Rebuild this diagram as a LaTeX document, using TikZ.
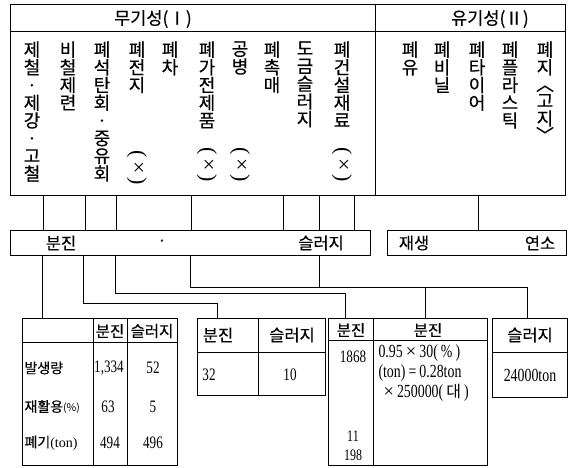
\documentclass[tikz,border=0pt]{standalone}
\usepackage{fontspec}
\usepackage{graphicx}
\setmainfont{Liberation Serif}
\newfontfamily\kr[FakeBold=0.3]{Noto Sans CJK KR}
\newfontfamily\krl{Noto Sans CJK KR}
\newfontfamily\numf[FakeStretch=0.75]{Liberation Serif}
\newcommand\vlb{\rotatebox[origin=c]{-90}{〈}}
\newcommand\vrb{\rotatebox[origin=c]{-90}{〉}}
\begin{document}
\begin{tikzpicture}[x=1pt,y=-1pt,line width=1pt,
 box/.style={draw,inner sep=0pt,outer sep=0pt,anchor=north west},
 vcol/.style={anchor=north,align=center,inner sep=0pt,font=\kr\fontsize{18}{17.7}\selectfont},
 hd/.style={inner sep=0pt,font=\kr\fontsize{17.5}{20}\selectfont},
 lbl/.style={inner sep=0pt,font=\kr\fontsize{16.5}{18}\selectfont},
 slbl/.style={inner sep=0pt,font=\kr\fontsize{14}{16}\selectfont},
 num/.style={inner sep=0pt,font=\numf\fontsize{17.5}{20}\selectfont},
 xm/.style={inner sep=0pt,rotate=-90,font=\fontsize{22}{24}\selectfont},
]
\useasboundingbox (0,0) rectangle (570,468);
% top box
\node[box,minimum width=555pt,minimum height=190pt] (top) at (10,5) {};
\draw (top.west |- 0,32) -- (top.east |- 0,32);
\draw (top.north -| 375,0) -- (top.south -| 375,0);
\node[hd] (h1) at (153,19) {무기성(Ⅰ)};
\node[hd] (h2) at (490,19) {유기성(Ⅱ)};
% columns
\node[vcol] (c1) at (32,41) {제\\철\\·\\제\\강\\·\\고\\철};
\node[vcol] (c2) at (68,41) {비\\철\\제\\련};
\node[vcol] (c3) at (102,41) {폐\\석\\탄\\회\\·\\중\\유\\회};
\node[vcol] (c4) at (137,41) {폐\\전\\지};
\node[vcol] (c5) at (170,41) {폐\\차};
\node[vcol] (c6) at (207,41) {폐\\가\\전\\제\\품};
\node[vcol] (c7) at (240,41) {공\\병};
\node[vcol] (c8) at (272,41) {폐\\촉\\매};
\node[vcol] (c9) at (305,41) {도\\금\\슬\\러\\지};
\node[vcol] (c10) at (342,41) {폐\\건\\설\\재\\료};
\node[vcol] (c11) at (410,41) {폐\\유};
\node[vcol] (c12) at (442,41) {폐\\비\\닐};
\node[vcol] (c13) at (477,41) {폐\\타\\이\\어};
\node[vcol] (c14) at (510,41) {폐\\플\\라\\스\\틱};
\node[vcol] (c15) at (545,41) {폐\\지\\[-1pt]\vlb\\[-1pt]고\\지\\[-1pt]\vrb};
\node[xm] (x1) at (137,168) {(\,×\,)};
\node[xm] (x2) at (207,165) {(\,×\,)};
\node[xm] (x3) at (240,165) {(\,×\,)};
\node[xm] (x4) at (342,165) {(\,×\,)};
% bars
\node[box,minimum width=360pt,minimum height=25pt] (bar1) at (10,230) {};
\node[box,minimum width=179pt,minimum height=25pt] (bar2) at (387,230) {};
\node[lbl] (b1) at (61,243) {분진};
\node[lbl] (b2) at (162,243) {·};
\node[lbl] (b3) at (321,243) {슬러지};
\node[lbl] (b4) at (414,243) {재생};
\node[lbl] (b5) at (540,243) {연소};
% connectors top -> bars
\foreach \xx in {43,85,116,191,283,319,354}
  \draw (top.south -| \xx,0) -- (bar1.north -| \xx,0);
\draw (top.south -| 478,0) -- (bar2.north -| 478,0);
% tables
\node[box,minimum width=155pt,minimum height=147pt] (t1) at (22,318) {};
\draw (t1.west |- 0,342) -- (t1.east |- 0,342);
\draw (t1.north -| 93,0) -- (t1.south -| 93,0);
\draw (t1.north -| 127,0) -- (t1.south -| 127,0);
\node[box,minimum width=128pt,minimum height=77pt] (t2) at (197,318) {};
\draw (t2.west |- 0,352) -- (t2.east |- 0,352);
\draw (t2.north -| 258,0) -- (t2.south -| 258,0);
\node[box,minimum width=159pt,minimum height=147pt] (t3) at (328,318) {};
\draw (t3.west |- 0,340) -- (t3.east |- 0,340);
\draw (t3.north -| 373,0) -- (t3.south -| 373,0);
\node[box,minimum width=75pt,minimum height=79pt] (t4) at (492,318) {};
\draw (t4.west |- 0,352) -- (t4.east |- 0,352);
% connectors bars -> tables
\draw (bar1.south -| 42,0) -- (t1.north -| 42,0);
\draw (bar1.south -| 83,0) -- (83,303) -- (217,303) -- (t2.north -| 217,0);
\draw (bar1.south -| 115,0) -- (115,293) -- (345,293) -- (t3.north -| 345,0);
\draw (bar1.south -| 190,0) -- (190,287) -- (527,287) -- (t4.north -| 527,0);
\draw (bar1.south -| 319,0) -- (319,287);
\draw (425,287) -- (t3.north -| 425,0);
% table 1 text
\node[lbl,font=\kr\fontsize{15.5}{17}\selectfont] (t1a) at (110,331) {분진};
\node[lbl,font=\kr\fontsize{15.5}{17}\selectfont] (t1b) at (152,331) {슬러지};
\node[slbl,anchor=west] (t1c) at (24,368) {발생량};
\node[slbl,anchor=west] (t1d) at (24,407) {재활용{\krl\fontsize{10.5}{12}\selectfont(\%)}};
\node[slbl,anchor=west] (t1e) at (24,443) {폐기{\rmfamily(ton)}};
\node[num] (n1) at (109,368) {1,334};
\node[num] (n2) at (153,368) {52};
\node[num] (n3) at (108,407) {63};
\node[num] (n4) at (153,407) {5};
\node[num] (n5) at (110,443) {494};
\node[num] (n6) at (153,443) {496};
% table 2 text
\node[lbl] (t2a) at (218,335) {분진};
\node[lbl] (t2b) at (292,335) {슬러지};
\node[num] (n7) at (209,375) {32};
\node[num] (n8) at (290,375) {10};
% table 3 text
\node[lbl,font=\kr\fontsize{15.5}{17}\selectfont] (t3a) at (351,330) {분진};
\node[lbl,font=\kr\fontsize{15.5}{17}\selectfont] (t3b) at (428,330) {분진};
\node[num] (n9) at (353,357) {1868};
\node[num,font=\numf\fontsize{16}{18}\selectfont] (n10) at (353,436) {11};
\node[num,font=\numf\fontsize{16}{18}\selectfont] (n11) at (353,455) {198};
\node[num,anchor=west,font=\numf\fontsize{18.5}{20}\selectfont] (r1) at (378,353) {0.95\,{\rmfamily×}\,30(\,\%\,)};
\node[num,anchor=west,font=\numf\fontsize{18.5}{20}\selectfont] (r2) at (378,373) {(ton)\,=\,0.28ton};
\node[num,anchor=west,font=\numf\fontsize{18.5}{20}\selectfont] (r3) at (383,393) {{\rmfamily×}\,250000(\,{\krl\fontsize{16}{18}\selectfont 대}\,)};
% table 4 text
\node[lbl] (t4a) at (530,335) {슬러지};
\node[num,font=\numf\fontsize{18.5}{20}\selectfont] (n12) at (530,375) {24000ton};
\end{tikzpicture}
\end{document}
